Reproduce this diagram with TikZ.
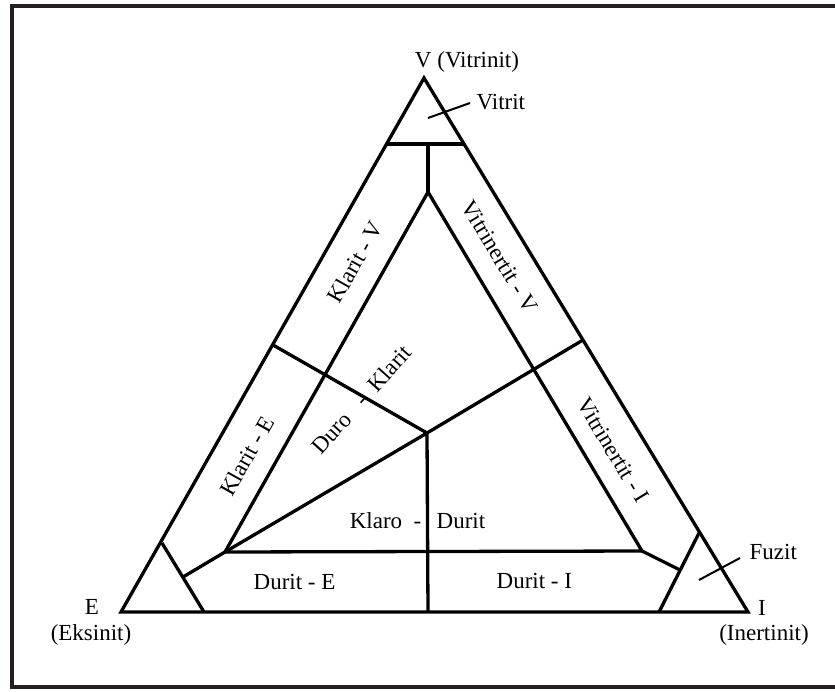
\documentclass[tikz,border=0pt]{standalone}
\usepackage{fontspec}
\setmainfont{Liberation Serif}
\definecolor{framec}{HTML}{231F20}
\begin{document}
\begin{tikzpicture}[x=1pt,y=-1pt,line width=3.3pt,line join=miter,
  lbl/.style={font=\fontsize{23}{27}\selectfont,inner sep=0pt},
  leader/.style={line width=2pt}]
\useasboundingbox (0,0) rectangle (835,691);
\clip (0,0) rectangle (835,691);
% outer frame
\draw[line width=4pt,color=framec] (12,6) rectangle (845,687);

% corner points of the outer triangle
\coordinate (V) at (424,78);
\coordinate (E) at (121,612);
\coordinate (I) at (748,612);
% inner triangle
\coordinate (Ai) at (428,192);
\coordinate (Bl) at (225,552);
\coordinate (Br) at (642,551);
% division points
\coordinate (Tl) at (386,144);
\coordinate (Tr) at (465,144);
\coordinate (Tm) at (428,144);
\coordinate (C) at (427,433);
\coordinate (Lm) at (273,345);
\coordinate (Rm) at (583,340);
\coordinate (Bm) at (428,612);
\coordinate (Le1) at (162,543);
\coordinate (Le2) at (204,612);
\coordinate (Le3) at (183,577);
\coordinate (Re1) at (699,533);
\coordinate (Re2) at (659,612);
\coordinate (Re3) at (680,570);

\draw (V) -- (E) -- (I) -- cycle;
\draw (Ai) -- (Bl) -- (Br) -- cycle;
\draw (Tl) -- (Tr);
\draw (Tm) -- (Ai);
\draw (Lm) -- (C) -- (Rm);
\draw (Bl) -- (C);
\draw (C) -- (Bm);
\draw (Le1) -- (Le2);
\draw (Bl) -- (Le3);
\draw (Re1) -- (Re2);
\draw (Br) -- (Re3);

% vertex labels
\node[lbl,anchor=base] (vl) at (467,67) {V (Vitrinit)};
\node[lbl,anchor=base] (el) at (92,614) {E};
\node[lbl,anchor=base] (ell) at (91,640) {(Eksinit)};
\node[lbl,anchor=base] (il) at (762,615) {I};
\node[lbl,anchor=base] (ill) at (764,640) {(Inertinit)};

% corner fields with leaders
\node[lbl,anchor=base west] (vit) at (475,109) {Vitrit};
\coordinate (vitp) at (428,118);
\coordinate (vitq) at (470,103);
\draw[leader] (vitp) -- (vitq);
\node[lbl,anchor=base west] (fuz) at (748,559) {Fuzit};
\coordinate (fuzp) at (699,580);
\coordinate (fuzq) at (740,558);
\draw[leader] (fuzp) -- (fuzq);

% band labels
\node[lbl,rotate=60.6] (kv) at (355,262) {Klarit - V};
\node[lbl,rotate=60.6] (ke) at (247,456) {Klarit - E};
\node[lbl,rotate=48,anchor=base west] (dk) at (320,457) {Duro\ \ \ -\ \ Klarit};
\node[lbl,rotate=-58.8] (vv) at (500,257) {Vitrinertit - V};
\node[lbl,rotate=-58.8] (vi) at (613,450) {Vitrinertit - I};

% lower fields
\node[lbl,anchor=base east] (kd1) at (423,528) {Klaro\ \ -};
\node[lbl,anchor=base west] (kd2) at (435,528) {Durit};
\node[lbl,anchor=base west] (de) at (252,589) {Durit - E};
\node[lbl,anchor=base west] (di) at (495,588) {Durit - I};
\end{tikzpicture}
\end{document}
